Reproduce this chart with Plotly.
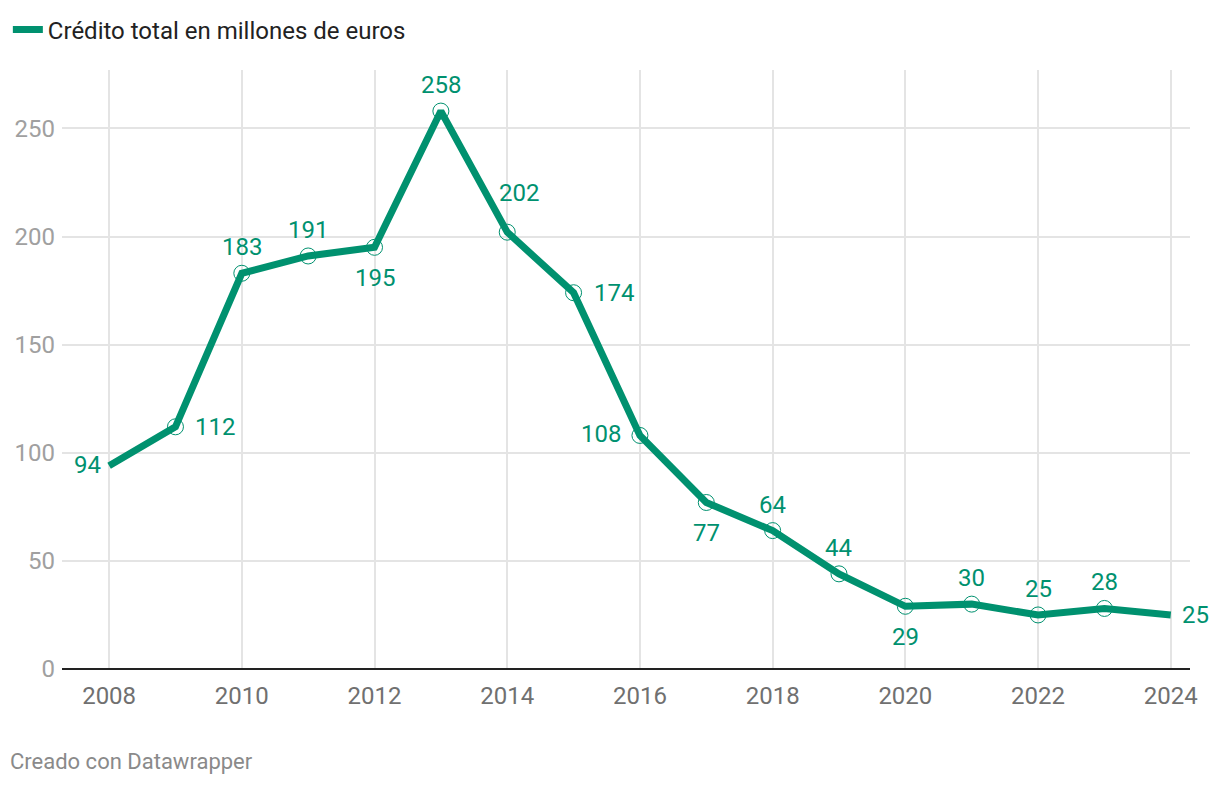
import plotly.graph_objects as go

years = list(range(2008, 2025))
credit = [94, 112, 183, 191, 195, 258, 202, 174, 108, 77, 64, 44, 29, 30, 25, 28, 25]
label_pos = ["left", "right", "top", "top", "bottom", "top", "topright", "right", "left",
             "bottom", "top", "top", "bottom", "top", "top", "top", "right"]
marker_shown = [False] + [True] * 15 + [False]

GREEN = "#00916f"
FONT = "Roboto"

fig = go.Figure()

# main line
fig.add_trace(go.Scatter(
    x=years, y=credit, mode="lines",
    line=dict(color=GREEN, width=7),
    showlegend=True, name="Crédito total en millones de euros",
    hoverinfo="skip",
))
# hollow circle markers
fig.add_trace(go.Scatter(
    x=[y for y, m in zip(years, marker_shown) if m],
    y=[v for v, m in zip(credit, marker_shown) if m],
    mode="markers",
    marker=dict(symbol="circle-open", size=16, color=GREEN, line=dict(width=1, color=GREEN)),
    showlegend=False, hoverinfo="skip",
))

annotations = []
for yr, v, pos, m in zip(years, credit, label_pos, marker_shown):
    a = dict(x=yr, y=v, xref="x", yref="y", text=str(v), showarrow=False,
             font=dict(family=FONT, size=24, color=GREEN))
    if pos == "top":
        a.update(xanchor="center", yanchor="middle", yshift=26)
    elif pos == "topright":
        a.update(xanchor="center", yanchor="middle", yshift=39, xshift=12)
    elif pos == "bottom":
        a.update(xanchor="center", yanchor="middle", yshift=-31)
    elif pos == "right":
        a.update(xanchor="left", yanchor="middle", xshift=(18 if m else 9))
    elif pos == "left":
        a.update(xanchor="right", yanchor="middle", xshift=(-17 if m else -6), yshift=1)
    annotations.append(a)

annotations.append(dict(
    x=-0.048, y=-0.155, xref="paper", yref="paper", xanchor="left", yanchor="middle",
    text="Creado con Datawrapper", showarrow=False,
    font=dict(family=FONT, size=22, color="#8a8a8a"),
))

fig.update_layout(
    width=1204, height=770,
    margin=dict(l=54, r=22, t=62, b=109, autoexpand=False),
    paper_bgcolor="white", plot_bgcolor="white",
    font=dict(family=FONT),
    annotations=annotations,
    showlegend=True,
    legend=dict(orientation="h", x=-0.048, xanchor="left", y=1.067, yanchor="middle",
                font=dict(family=FONT, size=24, color="#222222"),
                itemwidth=30, bgcolor="rgba(0,0,0,0)"),
    xaxis=dict(
        range=[2007.29, 2024.29], tickmode="array", automargin=False,
        tickvals=list(range(2008, 2025, 2)),
        ticktext=[str(t) for t in range(2008, 2025, 2)],
        showgrid=True, gridcolor="#e4e4e4", gridwidth=2,
        showline=False, zeroline=False, ticks="",
        tickfont=dict(family=FONT, size=24, color="#707070"),
        ticklabelstandoff=10,
    ),
    yaxis=dict(
        range=[0, 277], tickmode="array", automargin=False,
        tickvals=[0, 50, 100, 150, 200, 250],
        showgrid=True, gridcolor="#e4e4e4", gridwidth=2,
        zeroline=True, zerolinecolor="#222222", zerolinewidth=2,
        showline=False, ticks="",
        tickfont=dict(family=FONT, size=24, color="#a0a0a0"),
        ticklabelstandoff=6,
    ),
)

fig.write_html("out.html")
